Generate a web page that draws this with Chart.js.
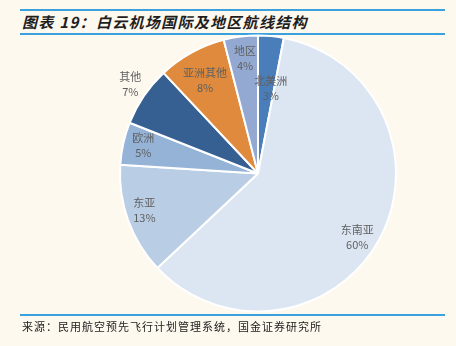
<!DOCTYPE html>
<html>
<head>
<meta charset="utf-8">
<script src="https://cdn.jsdelivr.net/npm/chart.js@4"></script>
<style>
  html, body { margin: 0; padding: 0; background: #FEF9EF; }
  #wrap { position: relative; width: 456px; height: 346px; overflow: hidden; background: #FEF9EF; }
  .rule { position: absolute; left: 20px; width: 425px; height: 2px; background: #3AA0DE; }
  #title { position: absolute; left: 22px; top: 12px; font: italic bold 15px "Noto Sans CJK SC", sans-serif; letter-spacing: 1.3px; color: #1e1e1e; line-height: 20px; white-space: nowrap; }
  #source { position: absolute; left: 22px; top: 318px; font: 11px "Noto Sans CJK SC", sans-serif; letter-spacing: 1px; color: #222; line-height: 16px; white-space: nowrap; }
  #c { position: absolute; left: 0; top: 0; }
</style>
</head>
<body>
<div id="wrap">
  <div class="rule" style="top:9px"></div>
  <div id="title">图表 19：白云机场国际及地区航线结构</div>
  <div class="rule" style="top:33px"></div>
  <canvas id="c" width="456" height="346"></canvas>
  <div class="rule" style="top:314px"></div>
  <div id="source">来源：民用航空预先飞行计划管理系统，国金证券研究所</div>
</div>
<script>
const categories = ["北美洲", "东南亚", "东亚", "欧洲", "其他", "亚洲其他", "地区"];
const shares = [3, 60, 13, 5, 7, 8, 4];
const percentLabels = ["3%", "60%", "13%", "5%", "7%", "8%", "4%"];
const sliceColors = ["#4A7EBB", "#DCE6F2", "#B9CDE5", "#95B3D7", "#376092", "#DF8A3C", "#93A9D1"];
// label placement: radial fraction of radius, and angular nudge (degrees) from slice mid-angle
const labelRadius = [0.625, 0.855, 0.865, 0.857, 1.13, 0.78, 0.84];
const labelNudge = [3.1, 3.9, 2.0, 1.4, 0.8, -0.7, 0.8];

const labelPlugin = {
  id: 'sliceLabels',
  afterDatasetsDraw(chart) {
    const ctx = chart.ctx;
    const meta = chart.getDatasetMeta(0);
    ctx.save();
    ctx.font = '11px "Noto Sans CJK SC", sans-serif';
    ctx.fillStyle = '#5f5f5f';
    ctx.textAlign = 'center';
    ctx.textBaseline = 'middle';
    meta.data.forEach((arc, i) => {
      const p = arc.getProps(['x', 'y', 'startAngle', 'endAngle', 'outerRadius'], true);
      const mid = (p.startAngle + p.endAngle) / 2 + labelNudge[i] * Math.PI / 180;
      const r = p.outerRadius * labelRadius[i];
      const x = p.x + Math.cos(mid) * r;
      const y = p.y + Math.sin(mid) * r;
      ctx.fillText(categories[i], x, y - 7.5);
      ctx.fillText(percentLabels[i], x, y + 7.5);
    });
    ctx.restore();
  }
};

new Chart(document.getElementById('c'), {
  type: 'pie',
  data: {
    labels: categories,
    datasets: [{
      data: shares,
      backgroundColor: sliceColors,
      borderColor: '#FFFFFF',
      borderWidth: 2
    }]
  },
  options: {
    responsive: false,
    animation: false,
    radius: 138,
    layout: { padding: { left: 100, right: 40, top: 30, bottom: 29 } },
    plugins: {
      legend: { display: false },
      tooltip: { enabled: false },
      title: { display: false }
    }
  },
  plugins: [labelPlugin]
});
</script>
</body>
</html>
